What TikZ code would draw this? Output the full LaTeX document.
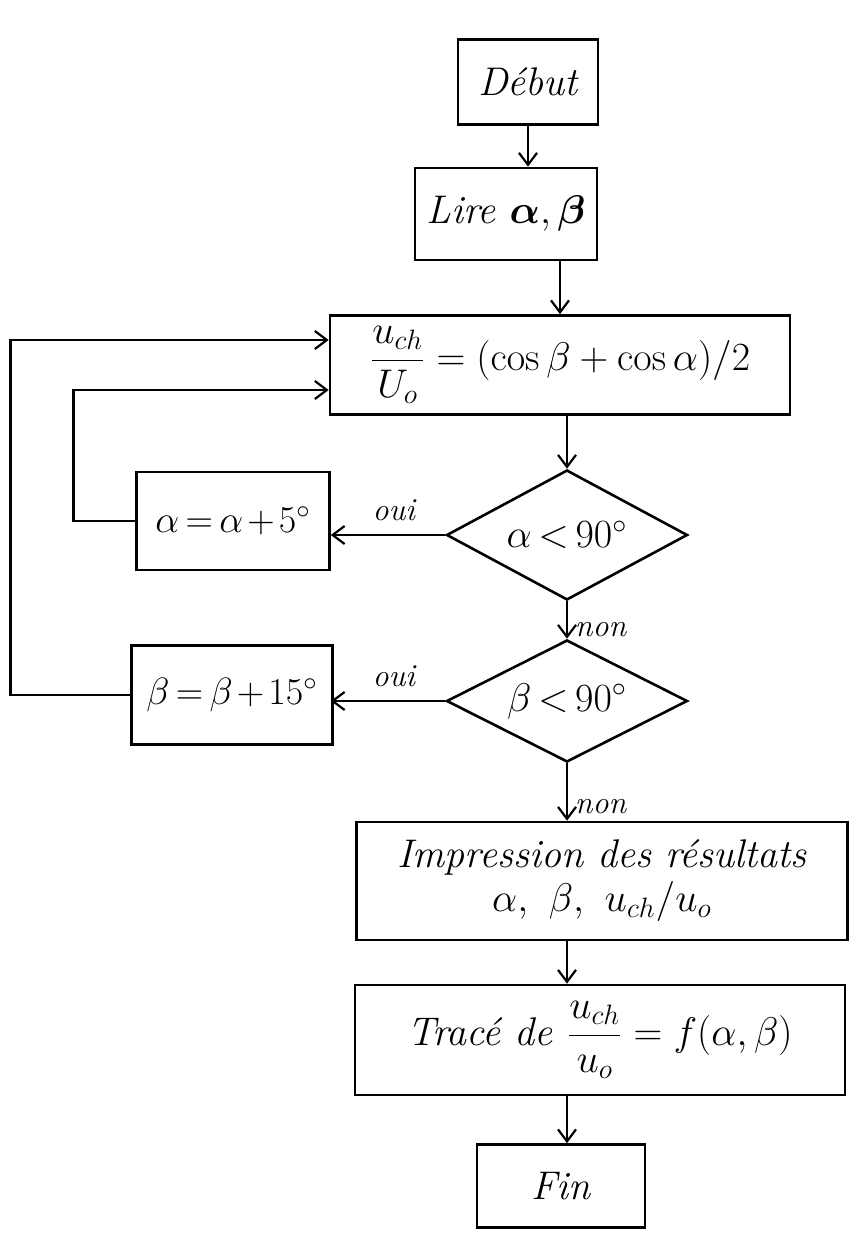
\RequirePackage{fix-cm}
\documentclass[tikz,border=0pt]{standalone}
\usepackage{amsmath,bm}
\usetikzlibrary{shapes.geometric,arrows.meta,calc}
\newcommand{\tightmath}{\medmuskip=2mu\thickmuskip=3mu}
\begin{document}
\begin{tikzpicture}[x=0.5pt,y=-0.5pt,
  every node/.style={font=\fontsize{20}{24}\selectfont\itshape},
  stepbox/.style={draw,line width=1.3pt,inner sep=2pt,align=center},
  testbox/.style={draw,diamond,aspect=2,line width=1.3pt,inner sep=0pt,
    font=\fontsize{20}{24}\selectfont\itshape\tightmath},
  smallbox/.style={stepbox,font=\fontsize{19}{22}\selectfont\itshape\tightmath},
  flow/.style={line width=1.3pt,-{Straight Barb[length=6pt,width=9pt,line width=1.1pt]}},
  lbl/.style={font=\fontsize{16}{19}\selectfont\itshape}]
\useasboundingbox (0,0) rectangle (850,1235);

% process boxes
\node[stepbox,minimum width=70pt,minimum height=42.5pt] (debut) at (528,82) {Début};
\node[stepbox,minimum width=91pt,minimum height=46pt] (lire) at (506,214) {Lire $\bm{\alpha},\bm{\beta}$};
\node[stepbox,minimum width=230pt,minimum height=49.5pt] (formula) at (560,365)
  {$\dfrac{u_{ch}}{U_o}=(\cos\beta+\cos\alpha)/2$};
\node[testbox,minimum width=120.5pt,minimum height=65pt] (adiam) at (567,535) {$\alpha<90^\circ$};
\node[smallbox,minimum width=96.5pt,minimum height=49pt] (abox) at (233,521) {$\alpha=\alpha+5^\circ$};
\node[testbox,minimum width=120.5pt,minimum height=61pt] (bdiam) at (567,701) {$\beta<90^\circ$};
\node[smallbox,minimum width=100.5pt,minimum height=49.5pt] (bbox) at (232,695) {$\beta=\beta+15^\circ$};
\node[stepbox,minimum width=245.5pt,minimum height=59pt] (impr) at (602,881)
  {Impression des résultats\\[-2pt] $\alpha,\ \beta,\ u_{ch}/u_o$};
\node[stepbox,minimum width=245pt,minimum height=55pt] (trace) at (600,1040)
  {Tracé de $\dfrac{u_{ch}}{u_o}=f(\alpha,\beta)$};
\node[stepbox,minimum width=84pt,minimum height=41.5pt] (fin) at (561,1186) {Fin};

% main flow
\draw[flow] (debut.south) -- (debut.south |- lire.north);
\draw[flow] (formula.north |- lire.south) -- (formula.north);
\draw[flow] (adiam.north |- formula.south) -- (adiam.north);
\draw[flow] (adiam.south) -- node[lbl,right,pos=0.75] {non} (bdiam.north);
\draw[flow] (bdiam.south) -- node[lbl,right,pos=0.75] {non} (bdiam.south |- impr.north);
\draw[flow] (bdiam.south |- impr.south) -- (bdiam.south |- trace.north);
\draw[flow] (bdiam.south |- trace.south) -- (bdiam.south |- fin.north);

% increments
\draw[flow] (adiam.west) -- node[lbl,above=3pt,pos=0.45] {oui} (adiam.west -| abox.east);
\draw[flow] (bdiam.west) -- node[lbl,above=3pt,pos=0.45] {oui} (bdiam.west -| abox.east);

% loops back to the formula
\draw[flow] (abox.west) -- ++(-62,0) |- ($(formula.west)+(0,25)$);
\draw[flow] (bbox.west) -- ++(-120,0) |- ($(formula.west)+(0,-25)$);
\end{tikzpicture}
\end{document}
